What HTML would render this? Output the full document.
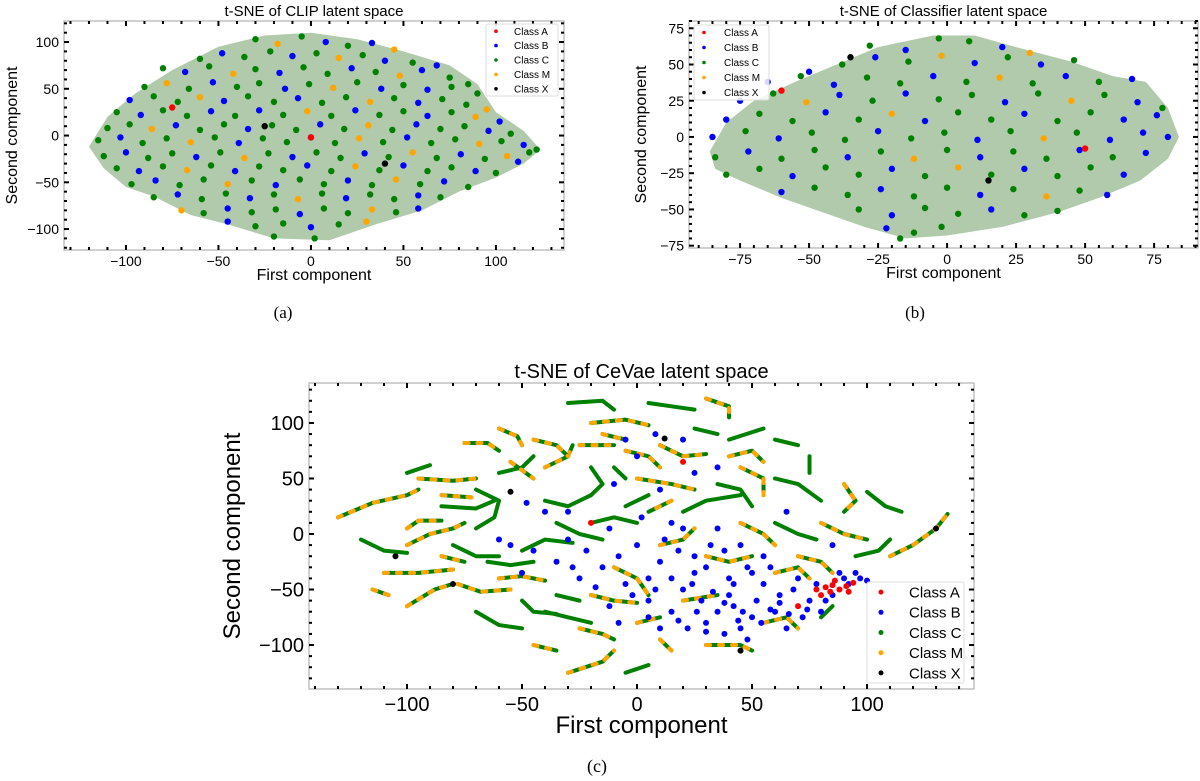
<!DOCTYPE html>
<html><head><meta charset="utf-8"><style>
html,body{margin:0;padding:0;background:#fff;}
svg{display:block;font-family:"Liberation Sans",sans-serif;}
</style></head><body>
<svg id="fig" width="1200" height="781" viewBox="0 0 1200 781"></svg>
<script>
// ---------- DATA ----------
const COLORS = {A:'#ff0000',B:'#0000ff',C:'#008000',M:'#ffa500',X:'#000000'};
const CLASS_NAMES = ['A','B','C','M','X'];
const LEGEND_LABELS = ['Class A','Class B','Class C','Class M','Class X'];

// panel a (CLIP)
const TICKS_AX = [-100,-50,0,50,100];
const TICKS_AY = [-100,-50,0,50,100];
const HULL_A = [[-120,-12],[-110,20],[-95,45],[-75,70],[-50,95],[-25,107],[0,110],[25,103],[50,90],[75,75],[90,55],[100,25],[115,5],[124,-15],[115,-30],[100,-45],[80,-60],[60,-80],[35,-95],[10,-112],[-20,-110],[-45,-95],[-65,-85],[-85,-65],[-100,-55],[-112,-35]];
const PTS_A = [
[-30,103,'C'],[-18,98,'M'],[-5,106,'C'],[8,100,'B'],[20,96,'C'],[33,99,'B'],[45,92,'M'],
[-60,82,'C'],[-48,88,'B'],[-36,84,'C'],[-22,90,'C'],[-10,85,'B'],[3,88,'C'],[15,83,'M'],[28,86,'C'],[40,80,'B'],[55,78,'C'],[68,75,'B'],
[-80,72,'C'],[-68,68,'B'],[-55,74,'C'],[-42,66,'M'],[-30,71,'C'],[-17,67,'B'],[-4,73,'C'],[9,66,'C'],[22,72,'B'],[35,68,'C'],[48,64,'M'],[60,70,'B'],[75,62,'C'],[85,55,'C'],
[-90,52,'C'],[-78,56,'M'],[-66,50,'C'],[-53,57,'B'],[-40,52,'C'],[-28,56,'C'],[-14,50,'B'],[-1,55,'C'],[12,51,'M'],[25,57,'C'],[38,50,'B'],[50,54,'C'],[63,49,'B'],[76,52,'C'],[90,45,'C'],
[-98,38,'B'],[-85,42,'C'],[-72,36,'C'],[-60,41,'M'],[-47,37,'B'],[-34,42,'C'],[-20,36,'C'],[-7,40,'B'],[6,35,'C'],[19,41,'C'],[32,36,'M'],[45,40,'C'],[58,35,'B'],[71,39,'C'],[84,33,'C'],[95,28,'M'],
[-105,25,'C'],[-92,22,'B'],[-80,27,'C'],[-67,21,'C'],[-54,26,'B'],[-41,21,'C'],[-28,27,'B'],[-15,22,'C'],[-2,26,'M'],[11,21,'C'],[24,27,'B'],[37,22,'C'],[50,26,'C'],[63,21,'B'],[76,25,'C'],[89,20,'M'],[102,15,'B'],
[-110,8,'C'],[-98,12,'C'],[-86,7,'M'],[-73,11,'B'],[-60,6,'C'],[-47,12,'C'],[-34,7,'B'],[-21,11,'C'],[-8,6,'C'],[5,12,'B'],[18,7,'C'],[31,11,'M'],[44,6,'C'],[57,12,'B'],[70,7,'C'],[83,10,'C'],[96,5,'B'],[108,2,'C'],
[-115,-5,'C'],[-103,-2,'B'],[-91,-8,'C'],[-78,-3,'C'],[-65,-7,'M'],[-52,-2,'C'],[-39,-8,'B'],[-26,-3,'C'],[-13,-7,'C'],[0,-2,'B'],[13,-8,'C'],[26,-3,'M'],[39,-7,'C'],[52,-2,'B'],[65,-8,'C'],[78,-4,'C'],[91,-9,'M'],[103,-6,'C'],[115,-10,'B'],[122,-15,'C'],
[-112,-22,'C'],[-100,-18,'B'],[-88,-24,'C'],[-75,-19,'C'],[-62,-23,'B'],[-49,-18,'C'],[-36,-24,'M'],[-23,-19,'C'],[-10,-23,'B'],[3,-18,'C'],[16,-24,'C'],[29,-19,'B'],[42,-23,'C'],[55,-18,'M'],[68,-24,'C'],[81,-20,'B'],[94,-25,'C'],[106,-22,'M'],[118,-18,'C'],[112,-28,'B'],
[-105,-35,'C'],[-93,-38,'B'],[-80,-33,'C'],[-67,-37,'M'],[-54,-32,'C'],[-41,-38,'B'],[-28,-33,'C'],[-15,-37,'C'],[-2,-32,'B'],[11,-38,'C'],[24,-33,'M'],[37,-37,'C'],[50,-32,'B'],[63,-38,'C'],[76,-34,'C'],[89,-38,'B'],[100,-40,'C'],
[-97,-52,'C'],[-84,-48,'B'],[-71,-53,'C'],[-58,-47,'C'],[-45,-52,'M'],[-32,-48,'C'],[-19,-53,'B'],[-6,-47,'C'],[7,-52,'C'],[20,-48,'B'],[33,-53,'C'],[46,-47,'M'],[59,-52,'C'],[72,-49,'B'],[85,-55,'C'],
[-85,-66,'C'],[-72,-63,'B'],[-59,-68,'C'],[-46,-62,'C'],[-33,-67,'B'],[-20,-63,'C'],[-7,-68,'M'],[6,-62,'C'],[19,-67,'B'],[32,-63,'C'],[45,-68,'C'],[58,-64,'B'],[70,-66,'C'],
[-70,-80,'M'],[-58,-83,'C'],[-45,-78,'B'],[-32,-82,'C'],[-19,-79,'C'],[-6,-84,'B'],[7,-78,'C'],[20,-83,'C'],[33,-79,'M'],[46,-82,'C'],[58,-78,'B'],
[-45,-92,'B'],[-30,-97,'C'],[-15,-94,'C'],[0,-98,'B'],[15,-95,'C'],[30,-92,'M'],[-20,-108,'C'],[2,-110,'C'],
[-75,30,'A'],[0,-2,'A'],[-25,10,'X'],[40,-30,'X']
];

// panel b (Classifier)
const TICKS_BX = [-75,-50,-25,0,25,50,75];
const TICKS_BY = [-75,-50,-25,0,25,50,75];
const HULL_B = [[-86,-10],[-80,10],[-70,25],[-55,38],[-40,50],[-25,62],[-5,70],[10,70],[25,62],[45,52],[60,42],[72,38],[80,20],[84,0],[80,-15],[70,-30],[55,-42],[40,-52],[20,-62],[0,-68],[-15,-70],[-30,-62],[-45,-52],[-60,-42],[-75,-30],[-84,-22]];
const PTS_B = [
[-28,63,'C'],[-15,60,'B'],[-3,68,'C'],[8,66,'C'],[20,62,'B'],[30,58,'M'],
[-50,45,'B'],[-38,50,'C'],[-26,55,'B'],[-14,52,'C'],[-2,56,'M'],[10,51,'B'],[22,55,'C'],[34,50,'B'],[46,53,'C'],
[-65,38,'B'],[-53,42,'C'],[-41,36,'B'],[-29,41,'C'],[-17,37,'C'],[-5,42,'B'],[7,38,'C'],[19,41,'M'],[31,37,'C'],[43,42,'B'],[55,38,'C'],[67,40,'B'],
[-75,25,'B'],[-63,30,'C'],[-51,24,'M'],[-39,29,'B'],[-27,25,'C'],[-15,30,'B'],[-3,26,'C'],[9,29,'C'],[21,24,'B'],[33,30,'C'],[45,25,'M'],[57,29,'C'],[69,24,'B'],[78,20,'C'],
[-80,12,'B'],[-68,16,'C'],[-56,11,'C'],[-44,17,'B'],[-32,12,'C'],[-20,16,'M'],[-8,11,'B'],[4,17,'C'],[16,12,'C'],[28,16,'B'],[40,11,'C'],[52,17,'C'],[64,12,'B'],[76,15,'B'],
[-85,0,'B'],[-73,4,'C'],[-61,-1,'B'],[-49,3,'C'],[-37,-2,'C'],[-25,4,'B'],[-13,-1,'C'],[-1,3,'C'],[11,-2,'B'],[23,4,'C'],[35,-1,'M'],[47,3,'C'],[59,-2,'B'],[71,3,'B'],[80,0,'B'],
[-84,-14,'C'],[-72,-10,'B'],[-60,-15,'C'],[-48,-9,'C'],[-36,-14,'B'],[-24,-10,'C'],[-12,-15,'M'],[0,-9,'C'],[12,-14,'B'],[24,-10,'C'],[36,-15,'C'],[48,-9,'B'],[60,-14,'C'],[72,-11,'B'],
[-80,-26,'C'],[-68,-22,'C'],[-56,-27,'B'],[-44,-21,'C'],[-32,-26,'C'],[-20,-22,'B'],[-8,-27,'C'],[4,-21,'M'],[16,-26,'C'],[28,-22,'B'],[40,-27,'C'],[52,-21,'C'],[64,-26,'B'],
[-60,-38,'B'],[-48,-35,'C'],[-36,-40,'C'],[-24,-36,'B'],[-12,-41,'C'],[0,-35,'C'],[12,-40,'B'],[24,-36,'C'],[36,-41,'M'],[48,-37,'C'],[58,-40,'B'],
[-32,-50,'C'],[-20,-54,'B'],[-8,-49,'C'],[4,-53,'C'],[16,-50,'B'],[28,-54,'C'],[40,-51,'C'],
[-22,-63,'B'],[-12,-66,'C'],[-2,-62,'C'],[-17,-70,'C'],
[-60,32,'A'],[50,-8,'A'],[15,-30,'X'],[-35,55,'X']
];

// panel c (CeVae)
const TICKS_CX = [-100,-50,0,50,100];
const TICKS_CY = [-100,-50,0,50,100];
const STRANDS = [
[[-130,15],[-115,28],[-100,35],[-95,40]],[[-120,-5],[-110,-15],[-100,-17]],[[-110,-35],[-95,-35],[-80,-32]],
[[-100,-65],[-88,-50],[-80,-45]],[[-100,55],[-90,62]],[[-95,50],[-80,48],[-70,50]],[[-100,-10],[-90,0],[-80,5],[-75,10]],
[[-85,25],[-70,23],[-62,30]],[[-85,35],[-72,33]],[[-75,82],[-65,82],[-60,75]],[[-60,95],[-52,88],[-50,80]],
[[-70,40],[-60,30],[-62,15],[-70,5]],[[-78,-45],[-68,-52],[-55,-50]],[[-70,-70],[-60,-82],[-50,-85]],[[-60,-40],[-50,-38],[-40,-42]],
[[-50,-15],[-40,-5],[-28,-8]],[[-40,60],[-30,70],[-28,80]],[[-25,80],[-10,80]],[[-30,118],[-15,120],[-10,112]],
[[-20,100],[-5,103],[5,98]],[[5,118],[15,115],[25,112]],[[30,122],[40,115],[40,105]],[[10,80],[20,70],[30,72]],
[[40,85],[55,95]],[[45,60],[55,50],[55,35]],[[60,50],[70,45],[80,30]],[[75,70],[75,55]],[[90,45],[95,30],[90,20]],
[[100,38],[108,25],[115,20]],[[110,-20],[120,-10],[130,5],[135,18]],[[80,10],[90,0],[100,-5]],[[60,10],[70,0],[78,-5]],
[[70,-20],[80,-25],[85,-35]],[[-40,-70],[-30,-75],[-20,-80]],[[-45,-100],[-35,-105]],[[-30,-125],[-15,-115],[-10,-105]],
[[-5,-125],[5,-118]],[[10,-95],[15,-105]],[[30,-100],[45,-100],[50,-105]],[[-20,10],[-10,15],[0,10]],
[[0,50],[15,45],[25,40]],[[20,20],[30,30],[45,35]],[[-10,-30],[0,-40],[5,-55]],[[-20,-55],[-10,-60],[0,-62]],
[[-40,30],[-30,25],[-20,35]],[[-100,5],[-95,12],[-85,12]],[[-80,-10],[-70,-20],[-60,-20]],[[55,-80],[65,-75],[70,-85]],
[[30,-20],[40,-25],[50,-20]],[[-60,55],[-50,60],[-45,70]],[[15,30],[5,20]],[[-10,60],[-5,50]],[[60,85],[70,80]],[[0,-80],[10,-75]],
[[-55,65],[-45,50]],[[-35,-55],[-25,-60]],[[20,-60],[35,-55]],[[-5,25],[5,35]],[[-15,90],[-5,85]],[[25,95],[35,90]],
[[-45,85],[-35,80],[-30,70]],[[-20,60],[-15,45],[-20,35]],[[-5,75],[5,70],[10,60]],[[35,45],[45,40],[50,25]],
[[60,-35],[70,-30],[75,-40]],[[-25,-85],[-15,-90],[-10,-95]],[[-50,-60],[-45,-70],[-35,-72]],[[-85,-20],[-75,-25]],
[[95,-20],[105,-15],[110,-5]],[[45,10],[55,0],[60,-10]],[[-35,10],[-25,0],[-15,-5]],[[10,-10],[20,-5],[25,5]],
[[-65,-25],[-55,-28],[-45,-25]],[[40,70],[50,75],[55,65]],[[85,-65],[80,-75]],[[-115,-50],[-108,-55]]
];
const STRAND_M = [1,0,1,1,0,1,1,0,1,1,1,0,1,0,1,0,1,1,0,1,0,1,1,0,1,0,0,1,0,1,1,0,1,0,1,1,0,1,1,0,1,0,1,1,0,1,0,1,1,0,1,0,0,1,1,0,1,0,1,0,1,0,1,0,1,1,0,1,0,1,0,1,0,1,0,1,1];
const PTS_C = [
[-30,-5,'B'],[-22,-15,'B'],[-15,-30,'B'],[-8,-20,'B'],[0,-10,'B'],[10,-25,'B'],[18,-15,'B'],[25,-35,'B'],[32,-10,'B'],[40,-40,'B'],
[48,-30,'B'],[55,-45,'B'],[62,-55,'B'],[70,-40,'B'],[20,-50,'B'],[28,-60,'B'],[35,-70,'B'],[42,-65,'B'],[50,-75,'B'],[58,-68,'B'],
[65,-85,'B'],[45,-85,'B'],[30,-80,'B'],[15,-70,'B'],[10,-85,'B'],[5,-60,'B'],[-5,-45,'B'],[-12,-65,'B'],[-25,-40,'B'],[-35,-25,'B'],
[-45,-15,'B'],[-50,-35,'B'],[40,-55,'B'],[52,-60,'B'],[60,-70,'B'],[75,-60,'B'],[80,-70,'B'],[72,-75,'B'],[85,-55,'B'],[90,-40,'B'],
[95,-35,'B'],[100,-42,'B'],[88,-35,'B'],[78,-45,'B'],[20,5,'B'],[35,5,'B'],[45,-10,'B'],[55,-20,'B'],[10,40,'B'],[0,70,'B'],
[-10,45,'B'],[-30,20,'B'],[25,55,'B'],[35,60,'B'],[65,20,'B'],[85,-10,'B'],[-55,-10,'B'],[38,-90,'B'],[22,-85,'B'],[5,-40,'B'],
[24,-45,'B'],[33,-52,'B'],[38,-62,'B'],[46,-70,'B'],[54,-80,'B'],[30,-88,'B'],[18,-78,'B'],[26,-70,'B'],[44,-78,'B'],[62,-62,'B'],
[68,-50,'B'],[74,-68,'B'],[82,-60,'B'],[92,-45,'B'],[97,-40,'B'],[15,-40,'B'],[8,-50,'B'],[-2,-55,'B'],[-18,-48,'B'],[-28,-30,'B'],
[12,-5,'B'],[25,-20,'B'],[38,-15,'B'],[50,-35,'B'],[58,-30,'B'],[-12,5,'B'],[2,15,'B'],[15,10,'B'],[-40,20,'B'],[-60,-5,'B'],
[30,-30,'B'],[42,-45,'B'],[5,-75,'B'],[-8,-80,'B'],[66,-72,'B'],[48,-95,'B'],[8,90,'B'],[-5,85,'B'],[20,85,'B'],[-48,28,'B'],
[78,-50,'A'],[82,-48,'A'],[85,-46,'A'],[88,-50,'A'],[91,-47,'A'],[94,-44,'A'],[86,-42,'A'],[80,-55,'A'],[92,-52,'A'],[84,-52,'A'],[70,-65,'A'],[-20,10,'A'],[20,65,'A'],
[-55,38,'X'],[12,86,'X'],[-80,-45,'X'],[45,-105,'X'],[130,5,'X'],[-105,-20,'X']
];

// ---------- RENDER ----------
const NS='http://www.w3.org/2000/svg';
const svg=document.getElementById('fig');
function el(tag,attrs,parent,text){const e=document.createElementNS(NS,tag);for(const k in attrs)e.setAttribute(k,attrs[k]);if(text!==undefined)e.textContent=text;(parent||svg).appendChild(e);return e;}

function panel(cfg){
  const g=el('g',{});
  
  
  const sx=v=>cfg.x0+(v-cfg.xmin)/(cfg.xmax-cfg.xmin)*(cfg.x1-cfg.x0);
  const sy=v=>cfg.y1-(v-cfg.ymin)/(cfg.ymax-cfg.ymin)*(cfg.y1-cfg.y0);
  if(cfg.hull){
    const h=el('polygon',{points:cfg.hull.map(p=>sx(p[0])+','+sy(p[1])).join(' '),fill:'#6f9e66','fill-opacity':'0.55',stroke:'none'},g);
    
    
  }
  if(cfg.strands){
    cfg.strands.forEach((s,i)=>{
      const pts=s.map(p=>sx(p[0])+','+sy(p[1])).join(' ');
      const l=el('polyline',{points:pts,fill:'none',stroke:COLORS.C,'stroke-width':4,'stroke-linecap':'round','stroke-linejoin':'round'},g);
      
      
      if(cfg.strandM[i]){
        const o=el('polyline',{points:pts,fill:'none',stroke:COLORS.M,'stroke-width':4,'stroke-dasharray':'4 9','stroke-linecap':'round'},g);
        
        
      }
    });
  }
  cfg.pts.forEach(p=>{
    const c=el('circle',{cx:sx(p[0]),cy:sy(p[1]),r:cfg.r,fill:COLORS[p[2]]},g);
    
    
  });
  const fr=el('rect',{x:cfg.x0,y:cfg.y0,width:cfg.x1-cfg.x0,height:cfg.y1-cfg.y0,fill:'none',stroke:'#b0b0b0','stroke-width':1.2},g);
  
  
  const tg=el('g',{stroke:'#000','stroke-width':2},g);
  
  
  for(let v=Math.ceil(cfg.xmin/cfg.minor)*cfg.minor;v<=cfg.xmax;v+=cfg.minor){
    const X=sx(v);const L=cfg.xt.includes(v)?5:3;
    el('line',{x1:X,y1:cfg.y1,x2:X,y2:cfg.y1-L},tg);el('line',{x1:X,y1:cfg.y0,x2:X,y2:cfg.y0+L},tg);
  }
  for(let v=Math.ceil(cfg.ymin/cfg.minor)*cfg.minor;v<=cfg.ymax;v+=cfg.minor){
    const Y=sy(v);const L=cfg.yt.includes(v)?5:3;
    el('line',{x1:cfg.x0,y1:Y,x2:cfg.x0+L,y2:Y},tg);el('line',{x1:cfg.x1,y1:Y,x2:cfg.x1-L,y2:Y},tg);
  }
  cfg.xt.forEach(v=>{const t=el('text',{x:sx(v),y:cfg.y1+cfg.fs+2,'font-size':cfg.fs,'text-anchor':'middle',fill:'#000'},g,v<0?'\u2212'+(-v):''+v);
    });
  cfg.yt.forEach(v=>{const t=el('text',{x:cfg.x0-5,y:sy(v)+cfg.fs*0.36,'font-size':cfg.fs,'text-anchor':'end',fill:'#000'},g,v<0?'\u2212'+(-v):''+v);
    });
  const xt=el('text',{x:(cfg.x0+cfg.x1)/2,y:cfg.y1+cfg.fs+cfg.lfs,'font-size':cfg.lfs,'text-anchor':'middle'},g,'First component');
  
  const yc=(cfg.y0+cfg.y1)/2;
  const yt=el('text',{x:cfg.ylx,y:yc,'font-size':cfg.lfs,'text-anchor':'middle',transform:`rotate(-90 ${cfg.ylx} ${yc})`},g,'Second component');
  
  const ti=el('text',{x:(cfg.x0+cfg.x1)/2,y:cfg.y0-5,'font-size':cfg.tfs,'text-anchor':'middle'},g,cfg.title);
  
  const lg=el('g',{},g);
  
  
  const L=cfg.leg;
  el('rect',{x:L.x,y:L.y,width:L.w,height:L.h,fill:'#fff','fill-opacity':0.85,stroke:'#ddd',rx:2},lg);
  const step=L.h/5;
  CLASS_NAMES.forEach((c,i)=>{
    const cy=L.y+step*(i+0.5);
    const d=el('circle',{cx:L.x+L.dx,cy:cy,r:L.r,fill:COLORS[c]},lg);
    
    const t=el('text',{x:L.x+L.tx,y:cy+L.fs*0.36,'font-size':L.fs},lg,LEGEND_LABELS[i]);
    
  });
  const cap=el('text',{x:cfg.cap[0],y:cfg.cap[1],'font-size':cfg.capfs,'text-anchor':'middle','font-family':'Liberation Serif, serif'},svg,cfg.capText);
  
}

panel({name:'panel-a-clip',x0:64,x1:564,y0:21,y1:250,xmin:-133.5,xmax:136.8,ymin:-122.4,ymax:122.5,
  xt:TICKS_AX,yt:TICKS_AY,minor:10,pts:PTS_A,hull:HULL_A,r:3.2,fs:14,lfs:16,tfs:15,ylx:17,
  title:'t-SNE of CLIP latent space',
  leg:{x:486,y:24,w:72,h:72,dx:10,tx:28,r:1.8,fs:10},cap:[283,318],capfs:17,capText:'(a)'});
panel({name:'panel-b-classifier',x0:689,x1:1198,y0:21,y1:248,xmin:-93.5,xmax:90.9,ymin:-76.6,ymax:80,
  xt:TICKS_BX,yt:TICKS_BY,minor:5,pts:PTS_B,hull:HULL_B,r:3.2,fs:14,lfs:16,tfs:15,ylx:646,
  title:'t-SNE of Classifier latent space',
  leg:{x:694,y:25,w:75,h:75,dx:10,tx:30,r:1.8,fs:10},cap:[915,318],capfs:17,capText:'(b)'});
panel({name:'panel-c-cevae',x0:309,x1:974,y0:383,y1:689,xmin:-142.6,xmax:146.5,ymin:-139.6,ymax:136,
  xt:TICKS_CX,yt:TICKS_CY,minor:10,pts:PTS_C,strands:STRANDS,strandM:STRAND_M,r:3,fs:20,lfs:24,tfs:20,ylx:240,
  title:'t-SNE of CeVae latent space',
  leg:{x:867,y:582,w:97,h:101,dx:14,tx:42,r:2.5,fs:15},cap:[597,772],capfs:18,capText:'(c)'});
</script>
</body></html>
